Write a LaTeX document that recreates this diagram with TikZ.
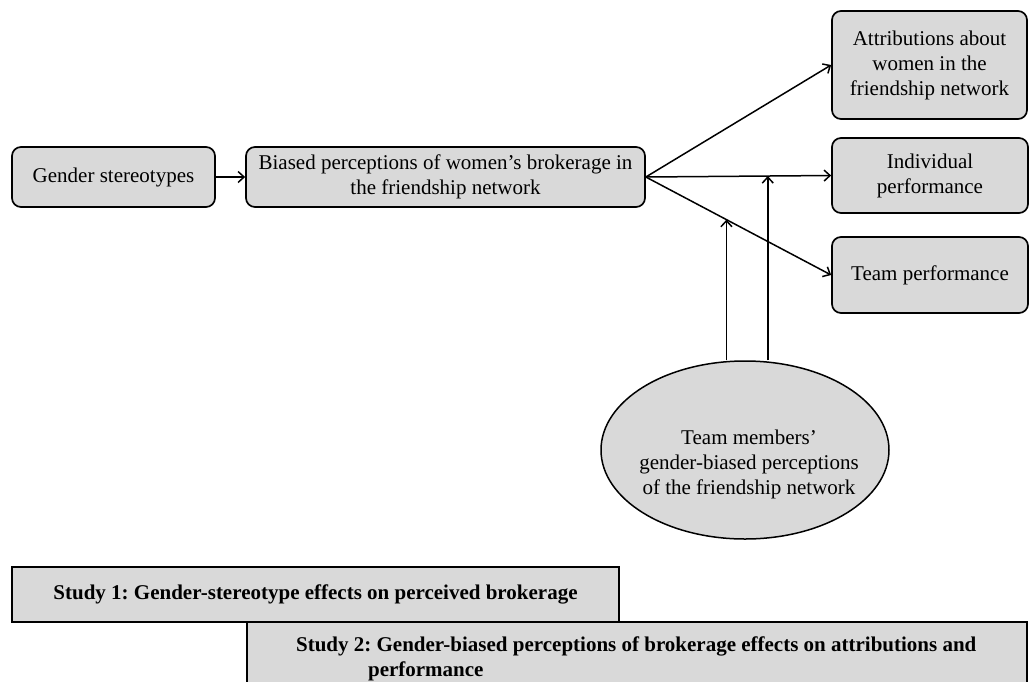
\documentclass[tikz,border=0pt]{standalone}
\usepackage{fontspec}
\setmainfont{Liberation Serif}
\usetikzlibrary{arrows.meta,shapes.geometric}
\definecolor{boxgray}{RGB}{217,217,217}
\tikzset{every picture/.style={line width=1.5pt}}
\frenchspacing

\begin{document}
\begin{tikzpicture}[x=1pt,y=1pt,>={Straight Barb[length=6pt,width=11pt]},
		font=\fontsize{21}{25}\selectfont,
		box/.style={draw,fill=boxgray,line width=1.7pt,rounded corners=9pt,align=center,inner sep=0pt},
		studybox/.style={draw,fill=boxgray,line width=1.7pt,inner sep=0pt}]
				\useasboundingbox (0,0) rectangle (1029,-681); %枠
				\node[box,minimum width=203,minimum height=60] (gs) at (113.5,-177) {Gender stereotypes};
				\node[box,minimum width=399,minimum height=60] (bp) at (445.5,-177) {Biased perceptions of women’s brokerage in\\the friendship network};
				\node[box,minimum width=195,minimum height=108] (ab) at (929.5,-65) {Attributions about\\women in the\\friendship network};
				\node[box,minimum width=196,minimum height=75] (ip) at (930,-175.5) {Individual\\performance};
				\node[box,minimum width=196,minimum height=76] (tp) at (930,-275) {Team performance};
				\node[draw,fill=boxgray,ellipse,minimum width=288,minimum height=178] (tm) at (745,-450) {}; %楕円
				\node[align=center] (tmtext) at (749,-464) {Team members’\\gender-biased perceptions\\of the friendship network};
				\draw[->] (gs)--(bp);
				\draw[->] (bp.east)--(ab.west);
				\draw[->] (bp.east)--(ip.west)coordinate[pos=0.658](m2);
				\draw[->] (bp.east)--(tp.west)coordinate[pos=0.435](m1);
				\draw[->] (m1|-tm.north)--(m1); %調整
				\draw[->] (m2|-tm.north)--(m2);
				\node[studybox,minimum width=607,minimum height=55] (st1) at (315.5,-594.5) {\bfseries Study 1: Gender-stereotype effects on perceived brokerage};
				\node[studybox,minimum width=780,minimum height=74,anchor=north west] (st2) at (246,-621) {};
				\node[align=left,anchor=base west,font=\fontsize{21}{25}\selectfont\bfseries] (st2text) at (292,-676) {Study 2: Gender-biased perceptions of brokerage effects on attributions and\\\hspace*{72pt}performance};
			\end{tikzpicture}
\end{document}
